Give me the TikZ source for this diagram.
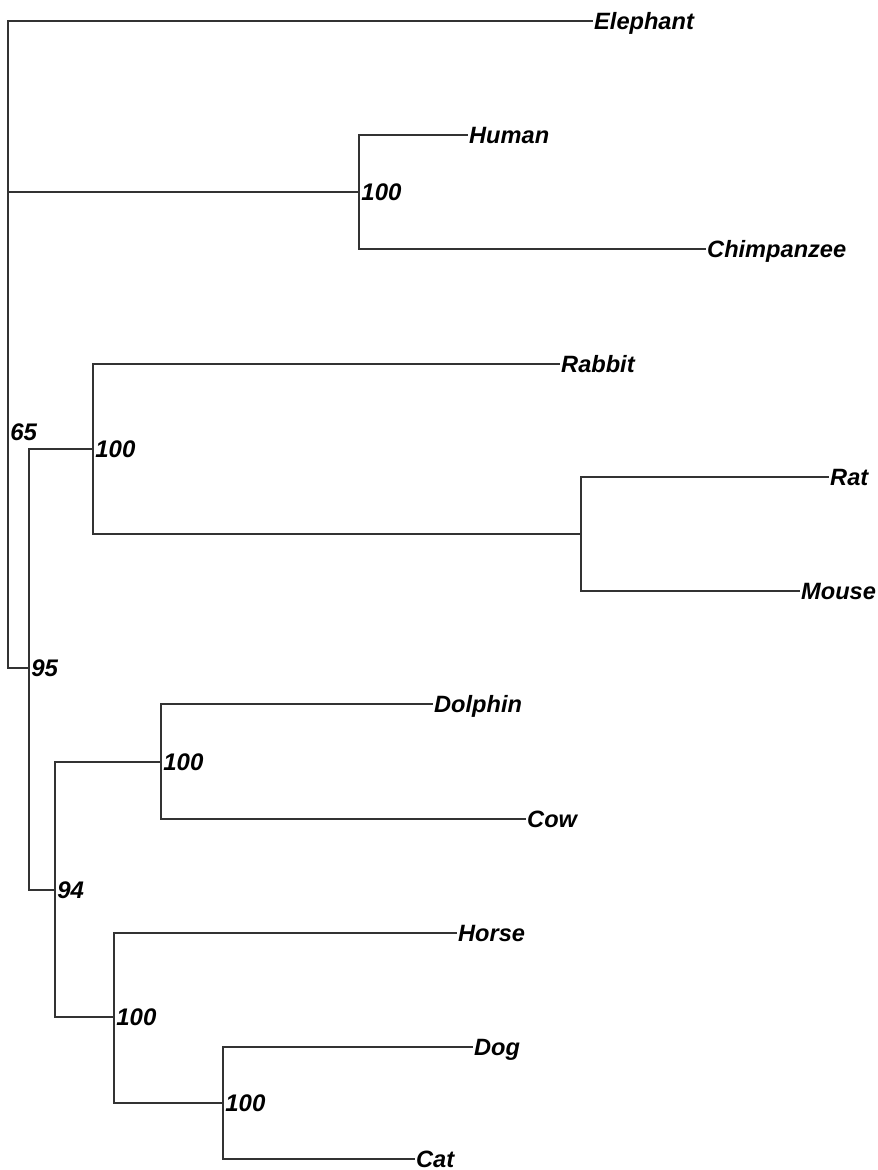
\documentclass[tikz,border=0pt]{standalone}
\usepackage{fontspec}
\setmainfont{Liberation Sans}
\usepackage{tikz}
\usetikzlibrary{positioning}
\definecolor{edge}{HTML}{333333}

\begin{document}
\begin{tikzpicture}[
  x=0.5pt, y=-0.5pt,
  br/.style={draw=edge, line width=0.7pt},
  taxon/.style={anchor=west, inner sep=0.4pt, text height=8.6pt, text depth=0pt,
                font=\fontsize{11.8}{14}\selectfont\bfseries\itshape},
  boot/.style={anchor=west, inner sep=1pt, text height=8.6pt, text depth=0pt,
               font=\fontsize{12}{14}\selectfont\bfseries\itshape}
]
\useasboundingbox (0,0) rectangle (877,1170);
% internal nodes
\coordinate (nRoot) at (8,432);
\coordinate (nHC)   at (359,192);
\coordinate (n95)   at (29,668);
\coordinate (nRR)   at (93,449);
\coordinate (nRM)   at (581,534);
\coordinate (n94)   at (55,890);
\coordinate (nDC)   at (161,762);
\coordinate (nHDC)  at (114,1017);
\coordinate (nDgC)  at (223,1103);
% leaves
\node[taxon] (elephant) at (593,21)   {Elephant};
\node[taxon] (human)    at (468,135)  {Human};
\node[taxon] (chimp)    at (706,249)  {Chimpanzee};
\node[taxon] (rabbit)   at (560,364)  {Rabbit};
\node[taxon] (rat)      at (829,477)  {Rat};
\node[taxon] (mouse)    at (800,591)  {Mouse};
\node[taxon] (dolphin)  at (433,704)  {Dolphin};
\node[taxon] (cow)      at (526,819)  {Cow};
\node[taxon] (horse)    at (457,933)  {Horse};
\node[taxon] (dog)      at (473,1047) {Dog};
\node[taxon] (cat)      at (415,1159) {Cat};
% root
\draw[br] (nRoot) |- (elephant.west);
\draw[br] (nRoot) |- (n95);
\draw[br] (nRoot |- nHC) -- (nHC);
% primates
\draw[br] (nHC) |- (human.west);
\draw[br] (nHC) |- (chimp.west);
% glires
\draw[br] (n95) |- (nRR);
\draw[br] (nRR) |- (rabbit.west);
\draw[br] (nRR) |- (nRM);
\draw[br] (nRM) |- (rat.west);
\draw[br] (nRM) |- (mouse.west);
% laurasiatheria
\draw[br] (n95) |- (n94);
\draw[br] (n94) |- (nDC);
\draw[br] (nDC) |- (dolphin.west);
\draw[br] (nDC) |- (cow.west);
\draw[br] (n94) |- (nHDC);
\draw[br] (nHDC) |- (horse.west);
\draw[br] (nHDC) |- (nDgC);
\draw[br] (nDgC) |- (dog.west);
\draw[br] (nDgC) |- (cat.west);
% bootstrap values
\node[boot] (bRoot) at (nRoot) {65};
\node[boot] (bHC)   at (nHC)   {100};
\node[boot] (b95)   at (n95)   {95};
\node[boot] (bRR)   at (nRR)   {100};
\node[boot] (b94)   at (n94)   {94};
\node[boot] (bDC)   at (nDC)   {100};
\node[boot] (bHDC)  at (nHDC)  {100};
\node[boot] (bDgC)  at (nDgC)  {100};
\end{tikzpicture}
\end{document}
